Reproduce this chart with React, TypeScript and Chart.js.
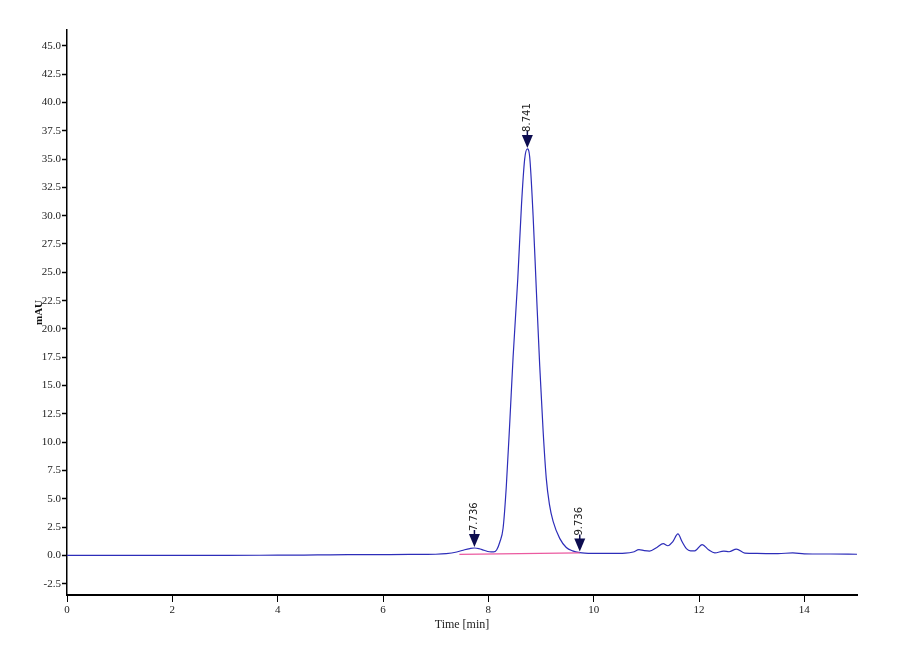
import React, { useEffect, useRef } from "react";
import { Chart, registerables } from "chart.js";

Chart.register(...registerables);

// Chromatogram trace (time in min, absorbance in mAU)
const timeMin: number[] = [
  0, 1, 2, 3, 4, 4.5, 5, 5.5, 6, 6.5, 7.0, 7.2, 7.4, 7.55, 7.65, 7.736, 7.82, 7.92, 8.02, 8.1,
  8.16, 8.22, 8.28, 8.34, 8.41, 8.47, 8.56, 8.63, 8.69, 8.741, 8.785, 8.85, 8.91, 8.975, 9.04,
  9.1, 9.16, 9.23, 9.355, 9.48, 9.6, 9.736, 10.0, 10.3, 10.6, 10.75, 10.86, 10.96, 11.06, 11.2,
  11.32, 11.41, 11.5, 11.6, 11.68, 11.76, 11.84, 11.92, 12.06, 12.18, 12.3, 12.47, 12.57, 12.71,
  12.87, 13.1, 13.5, 13.78, 14.0, 14.5, 15.0,
];
const absorbance: number[] = [
  0.0, 0.0, 0.0, 0.0, 0.02, 0.03, 0.05, 0.06, 0.07, 0.08, 0.1, 0.15, 0.3, 0.5, 0.6, 0.65, 0.6, 0.45, 0.32, 0.3,
  0.5, 1.2, 2.4, 6.0, 12.0, 17.5, 24.5, 31.0, 35.0, 35.9, 35.2, 30.0, 23.6, 16.8, 11.0,
  6.8, 4.5, 3.0, 1.5, 0.7, 0.4, 0.25, 0.18, 0.17, 0.2, 0.3, 0.5, 0.42, 0.38, 0.7,
  1.03, 0.85, 1.2, 1.9, 1.2, 0.6, 0.4, 0.4, 0.95, 0.5, 0.22, 0.38, 0.32, 0.56,
  0.2, 0.17, 0.15, 0.22, 0.14, 0.12, 0.1,
];

// Integration baseline (pink)
const baselineTime: number[] = [7.45, 9.736];
const baselineValue: number[] = [0.08, 0.22];

// Peak markers
const peakTimes: number[] = [7.736, 8.741, 9.736];
const peakHeights: number[] = [0.65, 35.9, 0.25];
const peakLabels: string[] = ["7.736", "8.741", "9.736"];

// Axis ticks
const xTicks: number[] = [0, 2, 4, 6, 8, 10, 12, 14];
const yTicks: number[] = [
  -2.5, 0, 2.5, 5, 7.5, 10, 12.5, 15, 17.5, 20, 22.5, 25, 27.5, 30, 32.5, 35, 37.5, 40, 42.5, 45,
];

const peakPlugin = {
  id: "peakMarks",
  afterDatasetsDraw(chart: any) {
    const { ctx, scales } = chart;
    const xs = scales.x;
    const ys = scales.y;
    peakTimes.forEach((t, i) => {
      const px = xs.getPixelForValue(t);
      const py = ys.getPixelForValue(peakHeights[i]) - 1;
      ctx.save();
      ctx.fillStyle = "#0d0d50";
      ctx.strokeStyle = "#0d0d50";
      ctx.beginPath();
      ctx.moveTo(px, py);
      ctx.lineTo(px - 5.5, py - 13);
      ctx.lineTo(px + 5.5, py - 13);
      ctx.closePath();
      ctx.fill();
      ctx.lineWidth = 1.5;
      ctx.beginPath();
      ctx.moveTo(px, py - 12);
      ctx.lineTo(px, py - 17);
      ctx.stroke();
      ctx.translate(px, py - 16);
      ctx.rotate(-Math.PI / 2);
      ctx.font = '10px "DejaVu Sans"';
      ctx.textAlign = "left";
      ctx.textBaseline = "middle";
      ctx.fillStyle = "#222";
      ctx.fillText(peakLabels[i], 0, 0);
      ctx.restore();
    });
  },
};

export default function App() {
  const ref = useRef<HTMLCanvasElement | null>(null);

  useEffect(() => {
    if (!ref.current) return;
    const chart = new Chart(ref.current, {
      type: "line",
      data: {
        datasets: [
          {
            label: "baseline",
            data: baselineTime.map((t, i) => ({ x: t, y: baselineValue[i] })),
            borderColor: "rgb(235,90,160)",
            borderWidth: 1.2,
            pointRadius: 0,
            fill: false,
          },
          {
            label: "signal",
            data: timeMin.map((t, i) => ({ x: t, y: absorbance[i] })),
            borderColor: "rgb(45,45,185)",
            borderWidth: 1.2,
            pointRadius: 0,
            cubicInterpolationMode: "monotone",
            fill: false,
          },
        ],
      },
      options: {
        animation: false,
        responsive: false,
        maintainAspectRatio: false,
        layout: { padding: { top: 30, right: 43, left: 0, bottom: 0 } },
        plugins: { legend: { display: false }, tooltip: { enabled: false } },
        scales: {
          x: {
            type: "linear",
            min: 0,
            max: 15,
            afterBuildTicks: (scale: any) => {
              scale.ticks = xTicks.map((v) => ({ value: v }));
            },
            afterFit: (scale: any) => {
              scale.height = 65;
            },
            grid: {
              drawOnChartArea: false,
              drawTicks: true,
              tickLength: 7,
              tickColor: "#000",
              tickWidth: 1,
            },
            border: { display: true, color: "#000", width: 2 },
            ticks: {
              autoSkip: false,
              maxRotation: 0,
              padding: 2,
              color: "#222",
              font: { family: '"Liberation Serif"', size: 11 },
              callback: (v: any) => String(v),
            },
            title: {
              display: true,
              text: "Time [min]",
              color: "#222",
              font: { family: '"Liberation Serif"', size: 12 },
              padding: { top: 0, bottom: 28 },
            },
          },
          y: {
            type: "linear",
            min: -3.5,
            max: 46.4,
            afterBuildTicks: (scale: any) => {
              scale.ticks = yTicks.map((v) => ({ value: v }));
            },
            afterFit: (scale: any) => {
              scale.width = 67;
            },
            grid: {
              drawOnChartArea: false,
              drawTicks: true,
              tickLength: 5,
              tickColor: "#000",
              tickWidth: 1.5,
            },
            border: { display: true, color: "#000", width: 1.5 },
            ticks: {
              autoSkip: false,
              padding: 1,
              color: "#222",
              font: { family: '"Liberation Serif"', size: 11 },
              callback: (v: any) => Number(v).toFixed(1),
            },
            title: {
              display: true,
              text: "mAU",
              color: "#111",
              font: { family: '"Liberation Serif"', size: 11, weight: "bold" },
              padding: { top: 33, bottom: 0 },
            },
          },
        },
      },
      plugins: [peakPlugin],
    });
    return () => chart.destroy();
  }, []);

  return (
    <div style={{ position: "fixed", left: 0, top: 0, width: 900, height: 660, background: "#fff" }}>
      <canvas ref={ref} width={900} height={660} style={{ width: 900, height: 660 }} />
    </div>
  );
}
